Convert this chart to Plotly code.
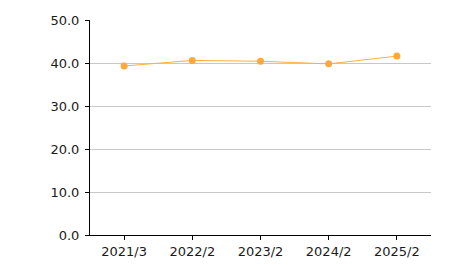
import plotly.graph_objects as go

categories = ["2021/3", "2022/2", "2023/2", "2024/2", "2025/2"]
values = [39.3, 40.6, 40.4, 39.8, 41.6]
y_ticks = [0, 10, 20, 30, 40, 50]
y_tick_labels = ["0.0", "10.0", "20.0", "30.0", "40.0", "50.0"]

fig = go.Figure()
fig.add_trace(go.Scatter(
    x=categories, y=values, mode="lines+markers",
    line=dict(color="#FBB040", width=1),
    marker=dict(color="#FBA93A", size=7),
    hoverinfo="skip",
))
fig.update_layout(
    width=450, height=265,
    margin=dict(l=90, r=19, t=20, b=30),
    paper_bgcolor="white", plot_bgcolor="white",
    showlegend=False,
    font=dict(family="DejaVu Sans, Verdana, sans-serif", size=13, color="#1a1a1a"),
)
fig.update_xaxes(
    type="category", range=[-0.5, 4.5], automargin=False,
    showline=True, linecolor="black", linewidth=1,
    ticks="outside", ticklen=4, tickcolor="black",
    showgrid=False, tickfont=dict(size=13),
)
fig.update_yaxes(
    range=[0, 50], tickvals=y_ticks, ticktext=y_tick_labels, automargin=False,
    showline=True, linecolor="black", linewidth=1,
    ticks="outside", ticklen=4, tickcolor="black", ticklabelstandoff=3,
    showgrid=True, gridcolor="#C8C8C8", gridwidth=1,
    zeroline=False, tickfont=dict(size=13),
)
fig.write_html("out.html")
